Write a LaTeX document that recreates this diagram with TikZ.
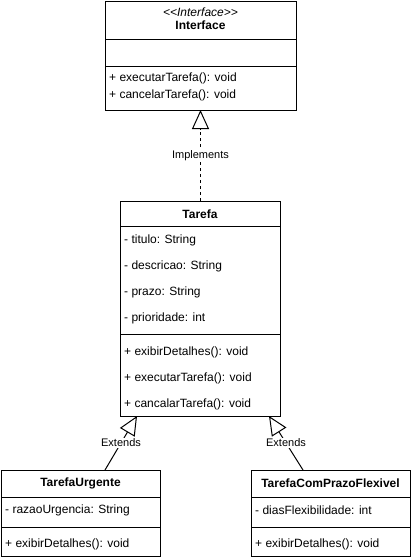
\documentclass[tikz,border=0pt]{standalone}
\usepackage{fontspec}
\setmainfont{Liberation Sans}
\usetikzlibrary{arrows.meta}
\begin{document}
\begin{tikzpicture}[x=1pt,y=-1pt,
  box/.style={draw, line width=1pt, rectangle, inner sep=0pt, anchor=north west},
  sep/.style={line width=1pt},
  txt/.style={font=\fontsize{12}{14}\selectfont, inner sep=0pt, anchor=west},
  ttl/.style={font=\fontsize{12}{14}\selectfont\bfseries, inner sep=0pt},
  stereo/.style={font=\fontsize{12}{14}\selectfont\itshape, inner sep=0pt},
  lbl/.style={font=\fontsize{11}{13}\selectfont, fill=white, inner sep=1pt},
  inh/.style={-{Triangle[open,length=19pt,width=17pt,fill=white]}, line width=1pt},
  dsh/.style={dash pattern=on 3pt off 3pt}
]
\useasboundingbox (0,0) rectangle (412,560);

% Interface
\node[box, minimum width=191pt, minimum height=109pt] (iface) at (105,1) {};
\draw[sep] (105,39) -- (296,39);
\draw[sep] (105,66) -- (296,66);
\node[stereo] (istereo) at (200.5,12) {<\kern0pt<Interface>\kern0pt>};
\node[ttl] (ititle) at (200.5,25) {Interface};
\node[txt] (im1) at (109,78) {+ executarTarefa(): void};
\node[txt] (im2) at (109,95) {+ cancelarTarefa(): void};

% Tarefa
\node[box, minimum width=160pt, minimum height=215pt] (tarefa) at (120,201) {};
\draw[sep] (120,226) -- (280,226);
\draw[sep] (120,334) -- (280,334);
\node[ttl] (ttitle) at (200,214) {Tarefa};
\node[txt] (ta1) at (124,240) {- titulo: String};
\node[txt] (ta2) at (124,266) {- descricao: String};
\node[txt] (ta3) at (124,292) {- prazo: String};
\node[txt] (ta4) at (124,318) {- prioridade: int};
\node[txt] (tm1) at (124,352) {+ exibirDetalhes(): void};
\node[txt] (tm2) at (124,378) {+ executarTarefa(): void};
\node[txt] (tm3) at (124,404) {+ cancalarTarefa(): void};

% TarefaUrgente
\node[box, minimum width=159pt, minimum height=86pt] (urg) at (1,470) {};
\draw[sep] (1,497) -- (160,497);
\draw[sep] (1,527) -- (160,527);
\node[ttl] (utitle) at (80.5,483) {TarefaUrgente};
\node[txt] (ua1) at (5,510) {- razaoUrgencia: String};
\node[txt] (um1) at (5,544) {+ exibirDetalhes(): void};

% TarefaComPrazoFlexivel
\node[box, minimum width=159pt, minimum height=86pt] (flex) at (251,470) {};
\draw[sep] (251,497) -- (410,497);
\draw[sep] (251,527) -- (410,527);
\node[ttl] (ftitle) at (330.5,483) {TarefaComPrazoFlexivel};
\node[txt] (fa1) at (255,510) {- diasFlexibilidade: int};
\node[txt] (fm1) at (255,544) {+ exibirDetalhes(): void};

% connectors
\coordinate (tTop) at (200.5,201);
\coordinate (iBot) at (200.5,110);
\draw[inh, dsh] (tTop) -- node[lbl] (implbl) {Implements} (iBot);

\coordinate (uTop) at (105,470);
\coordinate (tBotL) at (137,416);
\draw[inh] (uTop) -- node[lbl] (ext1) {Extends} (tBotL);

\coordinate (fTop) at (303,470);
\coordinate (tBotR) at (269,416);
\draw[inh] (fTop) -- node[lbl] (ext2) {Extends} (tBotR);
\end{tikzpicture}
\end{document}
